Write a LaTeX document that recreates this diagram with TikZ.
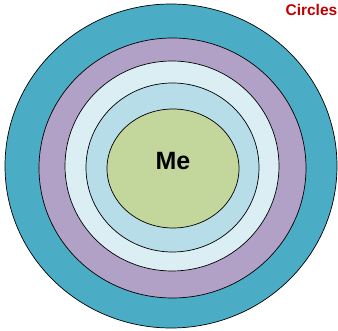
\documentclass[tikz,border=0pt]{standalone}
\usepackage{fontspec}
\setmainfont{Liberation Sans}
\usetikzlibrary{shapes.geometric}

\definecolor{ringteal}{HTML}{4BACC6}
\definecolor{ringpurple}{HTML}{B2A1C7}
\definecolor{ringpale}{HTML}{DAEEF3}
\definecolor{ringblue}{HTML}{B7DDE8}
\definecolor{coregreen}{HTML}{C3D69B}
\definecolor{titlered}{HTML}{C00000}

\tikzset{
  ring/.style={ellipse,draw=black,line width=0.7pt,inner sep=0pt},
}

\begin{document}
\begin{tikzpicture}[x=1pt,y=-1pt]
  \useasboundingbox (0,0) rectangle (338,331);
  \clip (0,0) rectangle (338,331);

  \node[ring,fill=ringteal,minimum width=332pt,minimum height=324pt] (outer) at (171,166) {};
  \node[ring,fill=ringpurple,minimum width=267pt,minimum height=260pt] (second) at (172.5,168) {};
  \node[ring,fill=ringpale,minimum width=214pt,minimum height=210pt] (third) at (172,166) {};
  \node[ring,fill=ringblue,minimum width=173pt,minimum height=169pt] (fourth) at (172.5,167.5) {};
  \node[ring,fill=coregreen,minimum width=132pt,minimum height=119pt] (me) at (173,168.5) {};
  \node[font=\bfseries\fontsize{25}{25}\selectfont] (melabel) at (173,161) {Me};

  \node[anchor=east,inner sep=0.5pt,text=titlered,font=\bfseries\fontsize{15.5}{15.5}\selectfont] (title) at (338,10) {Circles};
\end{tikzpicture}
\end{document}
